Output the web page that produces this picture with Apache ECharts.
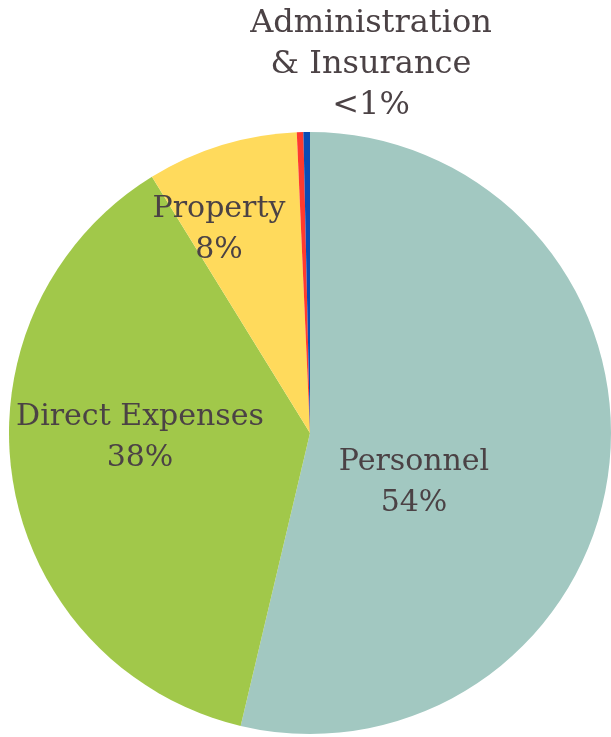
<!DOCTYPE html>
<html>
<head>
<meta charset="utf-8">
<script src="https://cdn.jsdelivr.net/npm/echarts@6/dist/echarts.min.js"></script>
<style>
  html, body { margin: 0; padding: 0; background: #fff; }
  #chart { width: 611px; height: 737px; }
</style>
</head>
<body>
<div id="chart"></div>
<script>
// budget share by category, clockwise from 12 o'clock
const categories = ["Personnel", "Direct Expenses", "Property", "Administration", "Insurance"];
const values = [53.7, 37.5, 8.1, 0.35, 0.35];
const labelTexts = ["Personnel\n54%", "Direct Expenses\n38%", "Property\n8%", "", "Administration\n& Insurance\n<1%"];
const colors = ["#A2C8C1", "#A1C84A", "#FFDA5C", "#FF3A2F", "#0B4CB4"];

// label centres (px) for each slice
const labelPos = [[414, 483], [140, 438], [219, 230], null, [371, 65]];

const chart = echarts.init(document.getElementById("chart"));
const option = {
  animation: false,
  series: [
    {
      type: "pie",
      center: [310, 433],
      radius: 301,
      startAngle: 90,
      clockwise: true,
      avoidLabelOverlap: false,
      itemStyle: { borderWidth: 0 },
      label: {
        show: true,
        position: "inside",
        fontFamily: "DejaVu Serif",
        fontSize: 30,
        lineHeight: 41,
        color: "#4B4245",
        align: "center",
        formatter: (p) => labelTexts[p.dataIndex],
      },
      labelLine: { show: false },
      labelLayout: (p) => {
        const pos = labelPos[p.dataIndex];
        if (!pos) return {};
        const out = { x: pos[0], y: pos[1], align: "center", verticalAlign: "middle" };
        if (p.dataIndex === 4) out.fontSize = 32;
        return out;
      },
      emphasis: { disabled: true },
      data: categories.map((name, i) => ({
        name: name,
        value: values[i],
        itemStyle: { color: colors[i] },
        label: { show: labelTexts[i] !== "" },
      })),
    },
  ],
};
chart.setOption(option);
</script>
</body>
</html>
